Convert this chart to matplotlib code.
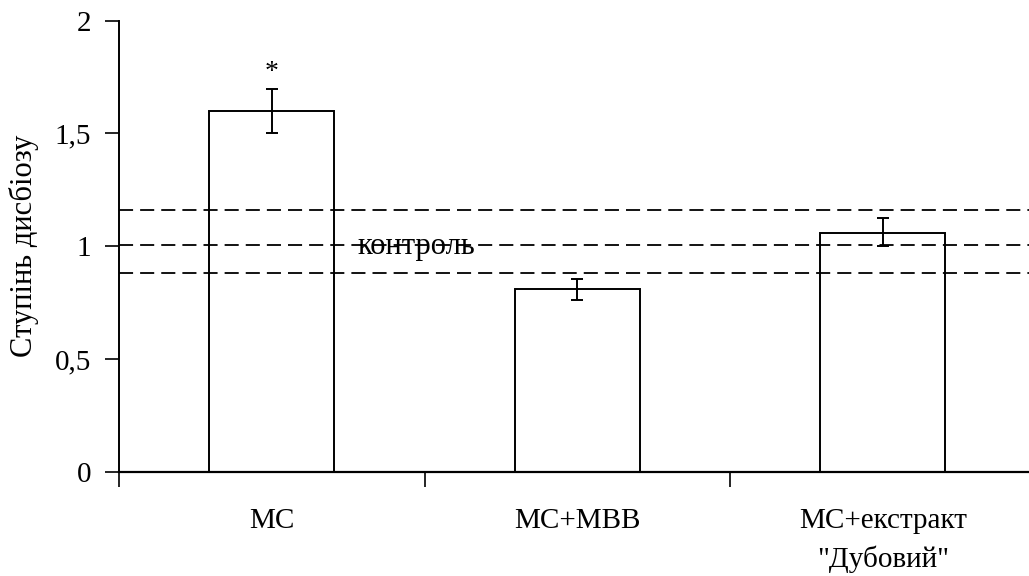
import matplotlib
matplotlib.use("Agg")
import matplotlib.pyplot as plt

categories = ["МС", "МС+МВВ", "МС+екстракт\n\"Дубовий\""]
values = [1.60, 0.81, 1.06]
err_up = [0.095, 0.045, 0.065]
err_down = [0.10, 0.05, 0.06]
control_lines = [1.16, 1.005, 0.882]
y_ticks = [0, 0.5, 1, 1.5, 2]
y_tick_labels = ["0", "0,5", "1", "1,5", "2"]

plt.rcParams['font.family'] = ['Liberation Serif', 'DejaVu Serif']

fig = plt.figure(figsize=(10.29, 5.76), dpi=100)
ax = fig.add_axes([119/1029, 104.3/576, (1035.6-119)/1029, (555.3-104.3)/576])

x = [0.5, 1.5, 2.5]
ax.bar(x, values, width=0.41, facecolor='none', edgecolor='black', linewidth=1.4, zorder=2)
ax.errorbar(x, values, yerr=[err_down, err_up], fmt='none', ecolor='black',
            elinewidth=1.4, capsize=4.3, capthick=1.4, zorder=3)

for v in control_lines:
    ax.axhline(v, color='black', linestyle=(0, (7.8, 3.9)), linewidth=1.3, zorder=1)

ax.text(0.972, 1.0, "контроль", ha='center', va='center', fontsize=22, zorder=4)
ax.text(0.5, 1.77, "*", ha='center', va='center', fontsize=20)

ax.set_xlim(0, 3)
ax.set_ylim(0, 2)
ax.set_xticks([0, 1, 2, 3])
ax.set_xticklabels([])
ax.set_xticks(x, minor=True)
ax.set_xticklabels(categories, minor=True, fontsize=21, linespacing=1.55)
ax.tick_params(axis='x', which='minor', length=0, pad=26)
ax.tick_params(axis='x', which='major', length=11, width=1.2, direction='out')
ax.set_yticks(y_ticks)
ax.set_yticklabels(y_tick_labels, fontsize=21)
ax.tick_params(axis='y', length=10, width=1.2, direction='out', pad=10)

ax.spines['top'].set_visible(False)
ax.spines['right'].set_visible(False)
ax.spines['left'].set_linewidth(1.4)
ax.spines['bottom'].set_linewidth(1.6)

ax.set_ylabel("Ступінь дисбіозу", fontsize=22, labelpad=11)

fig.savefig("out.png", dpi=100)
